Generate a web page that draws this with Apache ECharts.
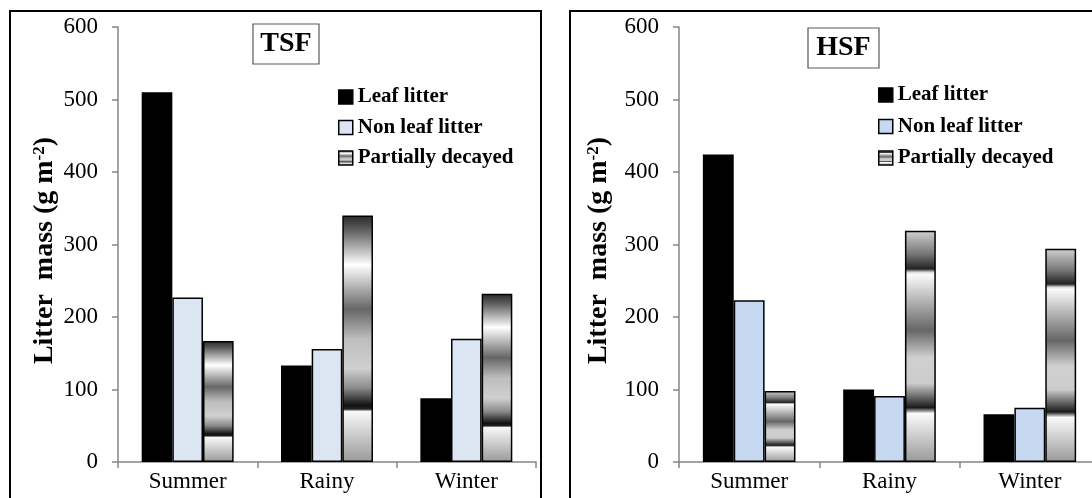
<!DOCTYPE html>
<html>
<head>
<meta charset="utf-8">
<script src="https://cdn.jsdelivr.net/npm/echarts@6/dist/echarts.min.js"></script>
<style>html,body{margin:0;padding:0;background:#fff;overflow:hidden}#c{width:1120px;height:498px}</style>
</head>
<body>
<div id="c"></div>
<script>
const categories = ['Summer', 'Rainy', 'Winter'];
const seriesNames = ['Leaf litter', 'Non leaf litter', 'Partially decayed'];
const tsfLeaf = [510, 133, 88];
const tsfNonLeaf = [227, 156, 170];
const tsfPartial = [167, 340, 232];
const hsfLeaf = [424, 100, 66];
const hsfNonLeaf = [223, 91, 75];
const hsfPartial = [98, 319, 294];
const yMin = 0, yMax = 600, yStep = 100;

const FONT = '"Liberation Serif", "Times New Roman", serif';
const chart = echarts.init(document.getElementById('c'));

const tsfGrad = new echarts.graphic.LinearGradient(0, 0, 0, 1, [
  {offset: 0, color: '#2a2a2a'}, {offset: 0.05, color: '#555'},
  {offset: 0.2, color: '#ffffff'}, {offset: 0.38, color: '#666'},
  {offset: 0.5, color: '#bdbdbd'}, {offset: 0.62, color: '#d0d0d0'},
  {offset: 0.7, color: '#8a8a8a'}, {offset: 0.77, color: '#111'},
  {offset: 0.785, color: '#222'}, {offset: 0.795, color: '#f8f8f8'},
  {offset: 1, color: '#999'}
]);
const hsfGrad = new echarts.graphic.LinearGradient(0, 0, 0, 1, [
  {offset: 0, color: '#d0d0d0'}, {offset: 0.1, color: '#777'},
  {offset: 0.165, color: '#222'}, {offset: 0.18, color: '#ddd'},
  {offset: 0.19, color: '#fafafa'}, {offset: 0.43, color: '#666'},
  {offset: 0.55, color: '#d0d0d0'}, {offset: 0.66, color: '#cccccc'},
  {offset: 0.765, color: '#1a1a1a'}, {offset: 0.78, color: '#999'},
  {offset: 0.79, color: '#fafafa'}, {offset: 1, color: '#999'}
]);

const colorsTSF = ['#000000', '#dce6f2', tsfGrad];
const colorsHSF = ['#000000', '#c6d9f1', hsfGrad];

function xAxis(gi) {
  return {
    type: 'category', data: categories, gridIndex: gi,
    axisLine: {lineStyle: {color: '#868686', width: 1.5}},
    axisTick: {show: true, length: 6, lineStyle: {color: '#868686', width: 1.5}},
    axisLabel: {color: '#000', fontFamily: FONT, fontSize: 23, margin: 8}
  };
}
function yAxis(gi, gap) {
  return {
    type: 'value', gridIndex: gi, min: yMin, max: yMax, interval: yStep,
    splitLine: {show: false},
    axisLine: {show: true, lineStyle: {color: '#868686', width: 1.5}},
    axisTick: {show: true, length: 6, lineStyle: {color: '#868686', width: 1.5}},
    axisLabel: {color: '#000', fontFamily: FONT, fontSize: 23, margin: 20},
    name: 'Litter  mass (g m{sup|-2})',
    nameLocation: 'middle', nameGap: gap, nameRotate: 90,
    nameTextStyle: {
      color: '#000', fontFamily: FONT, fontSize: 28, fontWeight: 'bold',
      padding: [0, 12, 0, 0],
      rich: {sup: {fontFamily: FONT, fontSize: 17, fontWeight: 'bold', color: '#000', verticalAlign: 'top'}}
    }
  };
}
function bars(vals, color, xi) {
  return {
    type: 'bar', xAxisIndex: xi, yAxisIndex: xi,
    barGap: '0%', barCategoryGap: '34%',
    itemStyle: {color: color, borderColor: '#000', borderWidth: 1.5},
    emphasis: {disabled: true},
    data: vals
  };
}
const tsfVals = [tsfLeaf, tsfNonLeaf, tsfPartial];
const hsfVals = [hsfLeaf, hsfNonLeaf, hsfPartial];
const series = [];
seriesNames.forEach((n, i) => series.push(Object.assign({name: n}, bars(tsfVals[i], colorsTSF[i], 0))));
seriesNames.forEach((n, i) => series.push(Object.assign({name: n}, bars(hsfVals[i], colorsHSF[i], 1))));

function legend(left, top, gap, colors) {
  return {
    orient: 'vertical', left: left, top: top, itemWidth: 14, itemHeight: 14, itemGap: gap,
    selectedMode: false, icon: 'rect',
    textStyle: {color: '#000', fontFamily: FONT, fontSize: 21, fontWeight: 'bold', lineHeight: 22},
    data: seriesNames.map((n, i) => ({name: n, itemStyle: {color: colors[i], borderColor: '#000', borderWidth: 1.5}}))
  };
}

chart.setOption({
  animation: false,
  backgroundColor: '#fff',
  grid: [
    {left: 118, top: 27, width: 418, height: 435},
    {left: 679, top: 27, width: 421, height: 435}
  ],
  xAxis: [xAxis(0), xAxis(1)],
  yAxis: [yAxis(0, 59), yAxis(1, 66)],
  legend: [legend(333, 81, 8.5, colorsTSF), legend(873, 79, 9.5, colorsHSF)],
  series: series,
  graphic: [
    {type: 'rect', silent: true, shape: {x: 10, y: 11, width: 531, height: 520}, style: {fill: 'none', stroke: '#000', lineWidth: 2}},
    {type: 'rect', silent: true, shape: {x: 570, y: 11, width: 580, height: 520}, style: {fill: 'none', stroke: '#000', lineWidth: 2}},
    {type: 'rect', silent: true, shape: {x: 253, y: 24, width: 66, height: 40}, style: {fill: '#fff', stroke: '#595959', lineWidth: 1.2}},
    {type: 'text', silent: true, x: 286, y: 44, style: {text: 'TSF', fontFamily: FONT, fontSize: 28, fontWeight: 'bold', fill: '#000', align: 'center', verticalAlign: 'middle'}},
    {type: 'rect', silent: true, shape: {x: 808, y: 28, width: 71, height: 40}, style: {fill: '#fff', stroke: '#595959', lineWidth: 1.2}},
    {type: 'text', silent: true, x: 843.5, y: 48, style: {text: 'HSF', fontFamily: FONT, fontSize: 28, fontWeight: 'bold', fill: '#000', align: 'center', verticalAlign: 'middle'}}
  ]
});
</script>
</body>
</html>
